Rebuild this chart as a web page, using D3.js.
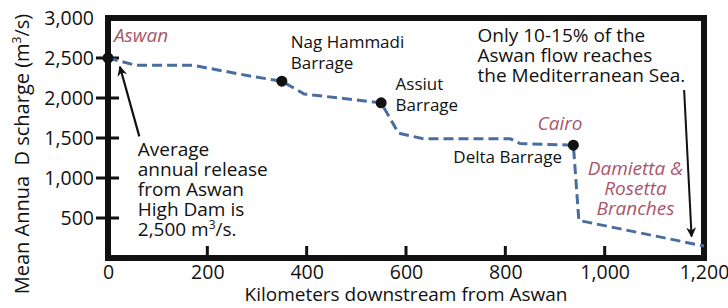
<!DOCTYPE html>
<html>
<head>
<meta charset="utf-8">
<script src="https://cdn.jsdelivr.net/npm/d3@7"></script>
<style>
  body { margin: 0; background: #fff; }
  text { font-family: "Open Sans", "Noto Sans", sans-serif; }
</style>
</head>
<body>
<div id="chart"></div>
<script>
// river profile
const km   = [0, 55, 170, 290, 350, 395, 550, 585, 635, 810, 830, 937, 948, 1200];
const flow = [2500, 2410, 2410, 2270, 2210, 2050, 1940, 1560, 1490, 1490, 1430, 1410, 470, 150];

// barrages / towns marked with a dot
const dotKm   = [0, 350, 550, 937];
const dotFlow = [2500, 2210, 1940, 1410];

const xTicks = [0, 200, 400, 600, 800, 1000, 1200];
const yTicks = [500, 1000, 1500, 2000, 2500, 3000];

const W = 728, H = 308;
const margin = {top: 18, right: 24, bottom: 50, left: 108};
const width = W - margin.left - margin.right,
      height = H - margin.top - margin.bottom;

const svg = d3.select("#chart").append("svg")
    .attr("width", W).attr("height", H);

svg.append("defs").append("marker")
    .attr("id", "arr")
    .attr("viewBox", "0 0 10 10")
    .attr("refX", 9).attr("refY", 5)
    .attr("markerWidth", 10).attr("markerHeight", 11)
    .attr("markerUnits", "userSpaceOnUse")
    .attr("orient", "auto")
  .append("path")
    .attr("d", "M0,0 L10,5 L0,10 L3,5 Z")
    .attr("fill", "#111");

const x = d3.scaleLinear().domain([0, 1200]).range([margin.left, margin.left + width]);
const y = d3.scaleLinear().domain([0, 3000]).range([margin.top + height, margin.top]);

const rose = "#a9566b";
const blue = "#4a6d9f";
const ink = "#111";

const x0 = x(0), x1 = x(1200), y0 = y(0), y1 = y(3000);

// frame
svg.append("rect")
    .attr("x", x0).attr("y", y1)
    .attr("width", x1 - x0).attr("height", y0 - y1)
    .attr("fill", "none")
    .attr("stroke", ink)
    .attr("stroke-width", 6);

// tick marks: y ticks straddle the frame, x ticks point inward
svg.append("g").selectAll("line")
  .data(yTicks.filter(d => d < 3000))
  .join("line")
    .attr("x1", x0 - 12).attr("x2", x0 + 11)
    .attr("y1", d => y(d)).attr("y2", d => y(d))
    .attr("stroke", ink).attr("stroke-width", 3);
svg.append("g").selectAll("line")
  .data(xTicks.filter(d => d > 0 && d < 1200))
  .join("line")
    .attr("x1", d => x(d)).attr("x2", d => x(d))
    .attr("y1", y0).attr("y2", y0 - 12)
    .attr("stroke", ink).attr("stroke-width", 3);

// the line
const pts = km.map((k, i) => [k, flow[i]]);
svg.append("path")
    .datum(pts)
    .attr("fill", "none")
    .attr("stroke", blue)
    .attr("stroke-width", 3)
    .attr("stroke-dasharray", "10,5")
    .attr("d", d3.line().x(d => x(d[0])).y(d => y(d[1])));

// y axis labels
const yAxis = svg.append("g")
    .attr("transform", `translate(${x0},0)`)
    .call(d3.axisLeft(y).tickValues(yTicks).tickSize(0).tickPadding(14)
      .tickFormat(d3.format(",")));
yAxis.select(".domain").remove();
yAxis.selectAll(".tick line").remove();
yAxis.selectAll(".tick text")
    .style("font-size", "19.5px").attr("fill", ink);

// x axis labels
const xAxis = svg.append("g")
    .attr("transform", `translate(0,${y0})`)
    .call(d3.axisBottom(x).tickValues(xTicks).tickSize(0).tickPadding(7)
      .tickFormat(d3.format(",")));
xAxis.select(".domain").remove();
xAxis.selectAll(".tick line").remove();
xAxis.selectAll(".tick text")
    .style("font-size", "19.5px").attr("fill", ink);

// dots
svg.selectAll("circle.dot")
    .data(dotKm)
    .join("circle")
      .attr("class", "dot")
      .attr("cx", d => x(d))
      .attr("cy", (d, i) => y(dotFlow[i]))
      .attr("r", 5.5)
      .attr("fill", ink);

// axis titles
svg.append("text")
    .attr("transform", `translate(29,154) rotate(-90)`)
    .attr("text-anchor", "middle")
    .style("font-size", "20px").attr("fill", ink)
    .html("Mean Annua&#160;&#160;D scharge (m<tspan dy='-8' font-size='12'>3</tspan><tspan dy='8'>/s)</tspan>");

svg.append("text")
    .attr("x", 406).attr("y", 301)
    .attr("text-anchor", "middle")
    .style("font-size", "19px").attr("fill", ink)
    .text("Kilometers downstream from Aswan");

// annotations
function lines(sel, arr, lh) {
  arr.forEach((t, i) => sel.append("tspan").attr("x", sel.attr("x")).attr("dy", i ? lh : 0).html(t));
}

svg.append("text")
    .attr("x", x(12)).attr("y", y(2700))
    .style("font-size", "19px").style("font-style", "italic").attr("fill", rose)
    .text("Aswan");

const nag = svg.append("text").attr("x", x(368)).attr("y", y(2620))
    .style("font-size", "17px").attr("fill", ink);
lines(nag, ["Nag Hammadi", "Barrage"], 21);

const ass = svg.append("text").attr("x", x(579)).attr("y", y(2100))
    .style("font-size", "17px").attr("fill", ink);
lines(ass, ["Assiut", "Barrage"], 21);

svg.append("text").attr("x", x(914)).attr("y", y(1190))
    .attr("text-anchor", "end")
    .style("font-size", "17px").attr("fill", ink)
    .text("Delta Barrage");

svg.append("text").attr("x", x(865)).attr("y", y(1600))
    .style("font-size", "19px").style("font-style", "italic").attr("fill", rose)
    .text("Cairo");

const dam = svg.append("text").attr("x", x(1062)).attr("y", y(1040))
    .attr("text-anchor", "middle")
    .style("font-size", "19px").style("font-style", "italic").attr("fill", rose);
lines(dam, ["Damietta &amp;", "Rosetta", "Branches"], 20);

const only = svg.append("text").attr("x", x(744)).attr("y", y(2700))
    .style("font-size", "19px").attr("fill", ink);
lines(only, ["Only 10-15% of the", "Aswan flow reaches", "the Mediterranean Sea."], 20);

const avg = svg.append("text").attr("x", x(60)).attr("y", y(1280))
    .style("font-size", "19px").attr("fill", ink);
lines(avg, ["Average", "annual release", "from Aswan", "High Dam is",
  "2,500 m<tspan dy='-7' font-size='12'>3</tspan><tspan dy='7'>/s.</tspan>"], 20);

// arrows
svg.append("line")
    .attr("x1", x(63)).attr("y1", y(1520))
    .attr("x2", x(24)).attr("y2", y(2390))
    .attr("stroke", ink).attr("stroke-width", 2.2)
    .attr("marker-end", "url(#arr)");

svg.append("line")
    .attr("x1", x(1160)).attr("y1", y(2100))
    .attr("x2", x(1175)).attr("y2", y(270))
    .attr("stroke", ink).attr("stroke-width", 2)
    .attr("marker-end", "url(#arr)");
</script>
</body>
</html>
